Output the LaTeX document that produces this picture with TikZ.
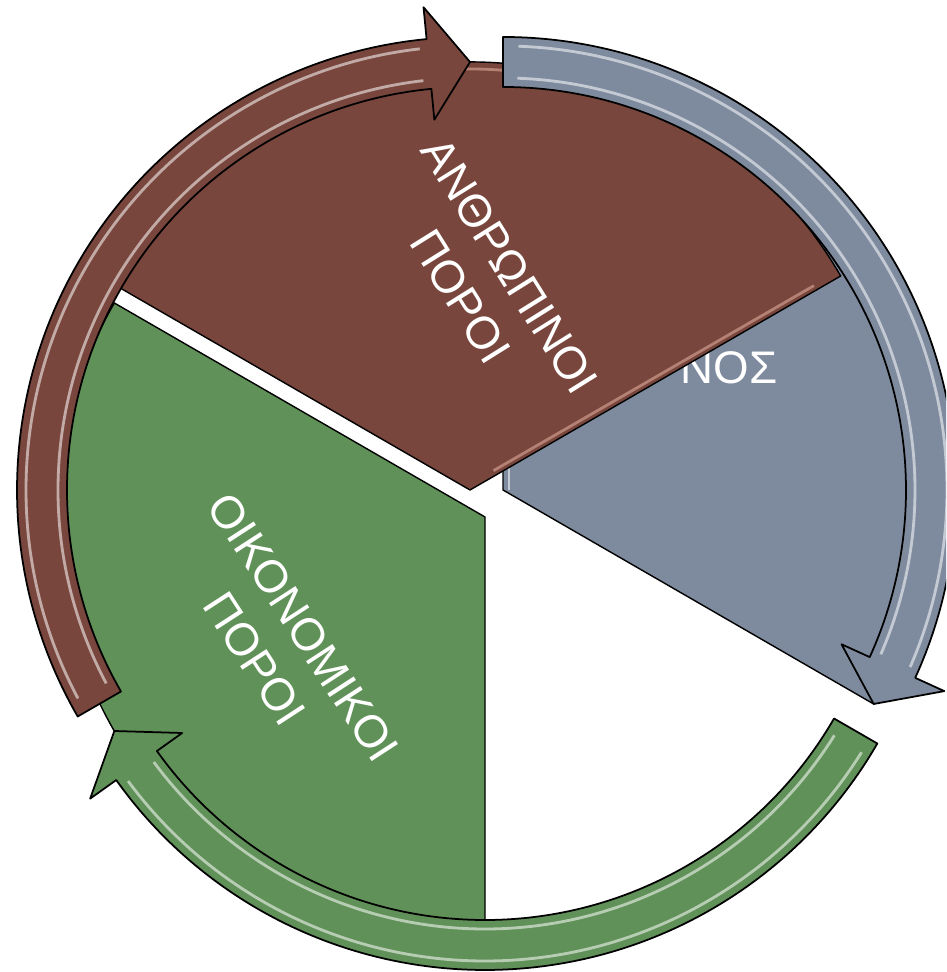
\documentclass[tikz,border=0pt]{standalone}
\usepackage{fontspec}
\setmainfont{Liberation Sans}
\definecolor{brownseg}{RGB}{120,70,60}
\definecolor{blueseg}{RGB}{126,139,158}
\definecolor{greenseg}{RGB}{96,145,88}
\definecolor{brownhi}{RGB}{232,178,165}
\tikzset{
  segment/.style={fill=#1, draw=black, line width=0.8pt, line join=round},
  cyclearrow/.style={fill=#1, draw=black, line width=1pt, line join=round},
  gloss/.style={draw=white, opacity=0.55, line width=1.6pt},
  segtext/.style={text=white, align=center, font=\fontsize{26}{33}\selectfont},
}

\begin{document}
\begin{tikzpicture}[x=0.02cm,y=0.02cm]
  \clip (0,0) rectangle (946,972);

  \draw[segment=blueseg] (503,482) -- ++(-30:428) arc[start angle=-30, end angle=90, radius=428] -- cycle;
  \draw[gloss] (509,482) -- (509,510);
  \node[segtext] (time) at (729,604) {ΝΟΣ};

  \draw[segment=brownseg] (470,482) -- ++(30:428) arc[start angle=30, end angle=150, radius=428] -- cycle;
  \draw[gloss, draw=brownhi, shift={(470,482)}] ([shift={(120:5)}]30:30) -- ([shift={(120:5)}]30:400);
  \draw[gloss, draw=brownhi, shift={(470,482)}] (96:421) arc[start angle=96, end angle=84, radius=421];

  \draw[segment=greenseg] (485,455) -- ++(150:428) arc[start angle=150, end angle=270, radius=428] -- cycle;

  \node[segtext, rotate=-58] (human) at (485,691) {ΑΝΘΡΩΠΙΝΟΙ\\ΠΟΡΟΙ};
  \node[segtext, rotate=-57] (money) at (279,329) {ΟΙΚΟΝΟΜΙΚΟΙ\\ΠΟΡΟΙ};

  \foreach \cx/\cy/\from/\to/\col [evaluate=\to as \hb using \to+5.5] in
      {470/482/210/90/brownseg, 503/482/90/-30/blueseg, 485/455/-30/-150/greenseg}{
    \draw[cyclearrow=\col, shift={(\cx,\cy)}] (\from:403)
      arc[start angle=\from, end angle=\hb, radius=403]
      -- (\hb:372) -- (\to:428) -- (\hb:485) -- (\hb:453)
      arc[start angle=\hb, end angle=\from, radius=453] -- cycle;
    \draw[gloss, shift={(\cx,\cy)}] (\from-2:412) arc[start angle=\from-2, end angle=\hb+1, radius=412];
    \draw[gloss, shift={(\cx,\cy)}] (\from-2:444) arc[start angle=\from-2, end angle=\hb+1, radius=444];
  }
\end{tikzpicture}
\end{document}
